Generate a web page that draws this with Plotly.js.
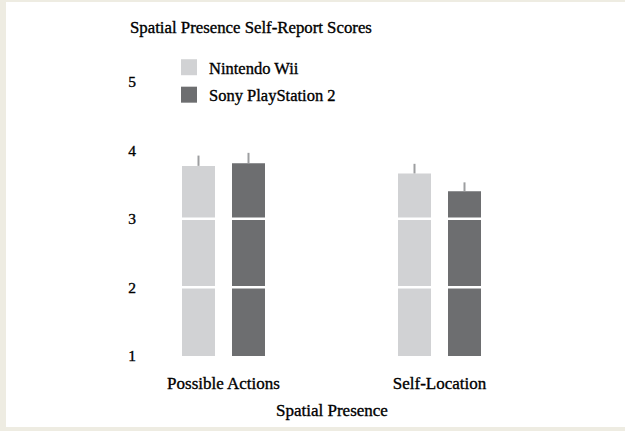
<!DOCTYPE html>
<html>
<head>
<meta charset="utf-8">
<script src="https://cdn.plot.ly/plotly-3.0.1.min.js"></script>
<style>
html,body{margin:0;padding:0;background:#eeece2;width:625px;height:431px;overflow:hidden;}
#chart{position:absolute;left:6px;top:2px;width:619px;height:425px;background:#fff;}
#chart svg text{stroke:#000;stroke-width:0.35px;}
</style>
</head>
<body>
<div id="chart"></div>
<script>
const categories = ["Possible Actions", "Self-Location"];
const seriesNames = ["Nintendo Wii", "Sony PlayStation 2"];
const wiiValues = [3.77, 3.66];
const ps2Values = [3.81, 3.40];
const wiiErrors = [0.15, 0.14];
const ps2Errors = [0.15, 0.13];
const yTickValues = [1, 2, 3, 4, 5];
const gridValues = [2, 3, 4, 5];

const colors = ["#d1d2d4", "#6d6e70"];
const fontFamily = "'Liberation Serif', 'DejaVu Serif', serif";
const textColor = "#000000";

const allValues = [wiiValues, ps2Values];
const allErrors = [wiiErrors, ps2Errors];

const traces = [];
allValues.forEach((vals, i) => {
  traces.push({
    type: "bar",
    x: categories,
    y: vals,
    name: seriesNames[i],
    showlegend: false,
    marker: {color: colors[i], line: {width: 0}},
    error_y: {
      type: "data", symmetric: false,
      array: allErrors[i], arrayminus: allErrors[i].map(() => 0),
      color: "#9d9ea0", thickness: 2, width: 0
    }
  });
});
// legend entries
seriesNames.forEach((n, i) => {
  traces.push({
    type: "scatter", mode: "markers",
    x: [categories[0]], y: [null],
    name: n, legendgroup: "g" + i,
    marker: {symbol: "square", size: 16, color: colors[i], line: {width: 0}},
    showlegend: true
  });
});

const layout = {
  width: 619, height: 425,
  paper_bgcolor: "#ffffff",
  plot_bgcolor: "#ffffff",
  margin: {l: 154, r: 122, t: 52, b: 71, autoexpand: false},
  font: {family: fontFamily, color: textColor, size: 14},
  title: {
    text: "Spatial Presence Self-Report Scores",
    font: {family: fontFamily, size: 16.8, color: textColor},
    xref: "container", x: 124 / 619, xanchor: "left",
    yref: "container", y: 1 - 25 / 425, yanchor: "middle"
  },
  barmode: "group",
  bargap: 0.537,
  bargroupgap: 0.34,
  xaxis: {
    type: "category",
    range: [-0.294, 1.294],
    autorange: false,
    showgrid: false, zeroline: false, showline: false,
    ticks: "outside", ticklen: 12, tickcolor: "rgba(0,0,0,0)",
    tickfont: {family: fontFamily, size: 17, color: textColor},
    fixedrange: true
  },
  yaxis: {
    range: [1, 5.4],
    autorange: false,
    tickvals: yTickValues,
    showgrid: false, zeroline: false, showline: false,
    ticks: "outside", ticklen: 20, tickcolor: "rgba(0,0,0,0)",
    tickfont: {family: fontFamily, size: 15.5, color: textColor},
    fixedrange: true
  },
  shapes: gridValues.map(v => ({
    type: "line", layer: "above",
    xref: "paper", x0: 0, x1: 1,
    yref: "y", y0: v, y1: v,
    line: {color: "#ffffff", width: 2.5}
  })),
  annotations: [{
    text: "Spatial Presence",
    xref: "paper", x: 0.5, xanchor: "center",
    yref: "paper", y: (353.9 - 408) / 302, yanchor: "middle",
    showarrow: false,
    font: {family: fontFamily, size: 17, color: textColor}
  }],
  legend: {
    xref: "container", yref: "container",
    x: 163 / 619, xanchor: "left",
    y: 1 - 48 / 425, yanchor: "top",
    traceorder: "grouped", tracegroupgap: 3,
    bgcolor: "rgba(0,0,0,0)",
    font: {family: fontFamily, size: 16.5, color: textColor}
  },
  showlegend: true
};

Plotly.newPlot("chart", traces, layout, {displayModeBar: false, staticPlot: true});
</script>
</body>
</html>
